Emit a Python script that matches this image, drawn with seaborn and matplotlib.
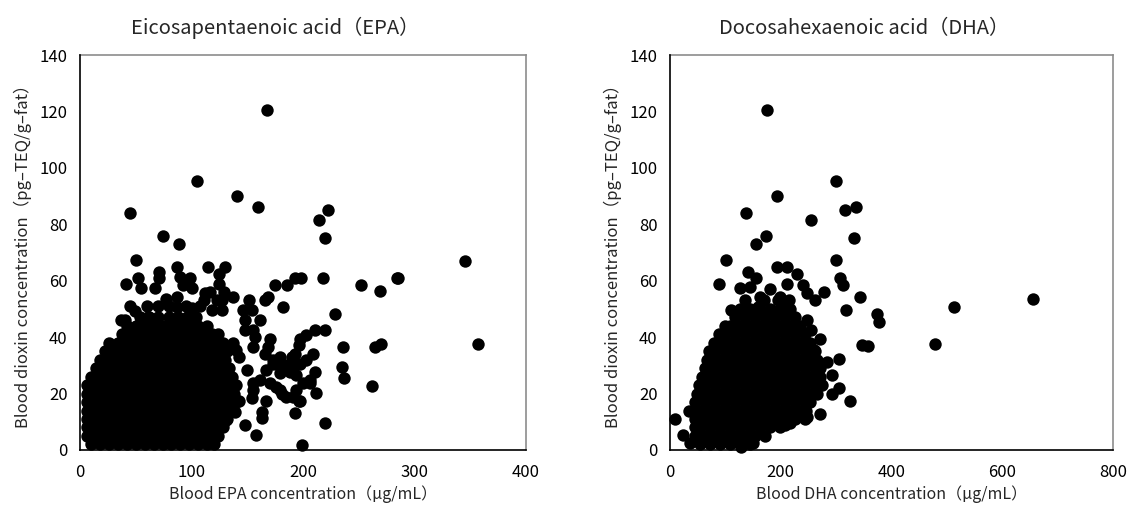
import numpy as np
import pandas as pd
import matplotlib
matplotlib.use("Agg")
import matplotlib.pyplot as plt
import seaborn as sns

# ======== EPA panel: sparse points ========
epa_x_sparse = [168, 105, 141, 160, 45, 222, 214, 220, 74, 89, 50, 345, 52, 41, 55, 71, 71, 67, 87, 90, 92,
                99, 100, 115, 125, 130, 125, 77, 87, 87, 100, 112, 117, 111, 123, 129, 127, 137, 118, 127,
                49, 40, 37, 61, 152, 146, 154, 166, 169, 175, 186, 182, 193, 198, 218, 252, 269, 285, 229,
                161, 148, 148, 155, 157, 155, 170, 169, 197, 203, 211, 220, 196, 193, 209, 236, 235, 237,
                265, 270, 262, 357, 211, 212, 206, 194, 196, 193, 220, 199, 179, 185, 167, 163, 163, 158,
                148, 173, 179, 184, 190, 191, 194, 167, 161, 155, 154, 143, 139, 131, 121, 150, 143, 140,
                137, 170, 176, 181, 200, 206, 191, 197, 179, 182, 188, 155, 166, 173, 197, 203, 284]
epa_y_sparse = [120.5, 95.5, 90, 86, 84, 85, 81.5, 75, 76, 73, 67.4, 67, 61, 59, 57.3, 63.2, 61, 57.3, 64.7,
                61.3, 58.6, 61, 57.3, 64.7, 62.3, 64.7, 59, 53.4, 54.4, 50.6, 50.5, 55.8, 56, 53.2, 53.2,
                56, 53.2, 54.4, 49.6, 49.6, 49.4, 46, 46, 47.3, 53.2, 49.6, 49.6, 53.2, 54.4, 58.5, 58.5,
                50.6, 61, 61, 61, 58.5, 56.3, 60.8, 48.1, 46, 46, 42.5, 42.5, 40.1, 36.6, 39.5, 36.6, 39.5,
                40.7, 42.5, 42.5, 37.2, 34.2, 34, 36.6, 29.3, 25.4, 36.6, 37.5, 22.7, 37.5, 27.6, 20.2, 23.6,
                21.3, 17.2, 13.2, 9.7, 1.8, 21.3, 18.9, 17.2, 13.6, 11.3, 5.2, 8.7, 31.9, 33.1, 30.2, 33.1,
                30.2, 26.6, 28.4, 24.8, 21.3, 18.3, 17.2, 13.6, 10.7, 4.5, 28.4, 33.1, 35.5, 37.8, 23.6,
                22.5, 20, 23.6, 24.8, 18.9, 17.2, 27.2, 29.6, 27.8, 23.6, 34.2, 30.6, 30.6, 31.9, 61]

# ======== EPA panel: dense core, estimated row by row ========
epa_core_rows = {
    2: [10, 18, 26, 34, 42, 50, 58, 66, 74, 82, 90, 98, 106, 114, 120],
    5: [6, 14, 22, 30, 38, 46, 54, 62, 70, 78, 86, 94, 102, 110, 118, 124],
    8: [6, 10, 18, 26, 34, 42, 50, 58, 66, 74, 82, 90, 98, 106, 114, 122, 128],
    11: [6, 14, 22, 30, 38, 46, 54, 62, 70, 78, 86, 94, 102, 110, 118, 126, 132],
    14: [6, 10, 18, 26, 34, 42, 50, 58, 66, 74, 82, 90, 98, 106, 114, 122, 130, 136],
    17: [6, 14, 22, 30, 38, 46, 54, 62, 70, 78, 86, 94, 102, 110, 118, 126, 134, 140],
    20: [6, 10, 18, 26, 34, 42, 50, 58, 66, 74, 82, 90, 98, 106, 114, 122, 130, 138],
    23: [6, 14, 22, 30, 38, 46, 54, 62, 70, 78, 86, 94, 102, 110, 118, 126, 134, 140],
    26: [10, 18, 26, 34, 42, 50, 58, 66, 74, 82, 90, 98, 106, 114, 122, 130, 136],
    29: [14, 22, 30, 38, 46, 54, 62, 70, 78, 86, 94, 102, 110, 118, 126, 134],
    32: [18, 26, 34, 42, 50, 58, 66, 74, 82, 90, 98, 106, 114, 122, 130],
    35: [22, 30, 38, 46, 54, 62, 70, 78, 86, 94, 102, 110, 118, 126, 132],
    38: [26, 34, 42, 50, 58, 66, 74, 82, 90, 98, 106, 114, 122, 128],
    41: [38, 46, 54, 62, 70, 78, 86, 94, 102, 110, 118, 124],
    44: [42, 50, 58, 66, 74, 82, 90, 98, 106, 114],
    47: [54, 62, 70, 80, 88, 96, 104],
    51: [45, 60, 70, 80, 95, 108],
}

# ======== DHA panel: sparse points ========
dha_x_sparse = [176, 299, 194, 137, 316, 335, 254, 173, 155, 333, 102, 300, 9, 35, 24, 36, 88, 141, 156,
                144, 126, 193, 211, 229, 211, 241, 180, 198, 162, 159, 183, 209, 247, 262, 278, 307, 313,
                318, 344, 373, 378, 346, 358, 478, 513, 655, 110, 126, 105, 92, 66, 60, 283, 305, 292,
                292, 306, 325, 270, 247, 232, 217, 208, 271, 260, 247, 255, 129, 150]
dha_y_sparse = [120.5, 95.5, 90, 84, 85, 86, 81.5, 76, 73, 75, 67.5, 67.4, 11, 14, 5.3, 2.4, 59, 63.2, 61,
                57.9, 57.3, 64.7, 64.7, 62.3, 59, 58.5, 56.9, 54.4, 54.4, 50.6, 49.6, 50.6, 55.6, 53.2,
                56, 60.8, 58.5, 49.6, 54.4, 48.3, 45.3, 37.1, 36.9, 37.5, 50.6, 53.5, 49.6, 49.6, 42.5,
                38.4, 29.5, 19.5, 31.3, 32.2, 26.6, 19.7, 22, 17.2, 12.9, 11.8, 12.9, 9.4, 8.9, 39.5,
                35.4, 46.1, 42.5, 1.2, 2.4]

# ======== DHA panel: dense core, estimated row by row ========
dha_core_rows = {
    2: [54, 72, 90, 108, 126, 144],
    5: [45, 63, 81, 99, 117, 135, 153, 171],
    8: [46, 54, 72, 90, 108, 126, 144, 162, 180, 198],
    11: [45, 63, 81, 99, 117, 135, 153, 171, 189, 207, 225, 243],
    14: [44, 54, 72, 90, 108, 126, 144, 162, 180, 198, 216, 234, 246],
    17: [45, 63, 81, 99, 117, 135, 153, 171, 189, 207, 225, 243, 252],
    20: [48, 54, 72, 90, 108, 126, 144, 162, 180, 198, 216, 234, 252, 266],
    23: [52, 63, 81, 99, 117, 135, 153, 171, 189, 207, 225, 243, 261, 274],
    26: [58, 72, 90, 108, 126, 144, 162, 180, 198, 216, 234, 252, 270],
    29: [63, 81, 99, 117, 135, 153, 171, 189, 207, 225, 243, 261, 270],
    32: [66, 72, 90, 108, 126, 144, 162, 180, 198, 216, 234, 252, 266],
    35: [70, 81, 99, 117, 135, 153, 171, 189, 207, 225, 243, 261],
    38: [80, 90, 108, 126, 144, 162, 180, 198, 216, 234, 252],
    41: [88, 99, 117, 135, 153, 171, 189, 207, 225, 243],
    44: [100, 108, 126, 144, 162, 180, 198, 216, 234],
    47: [117, 135, 153, 171, 189, 207, 225],
    50: [126, 144, 162, 180, 198, 216],
    53: [135, 170, 195, 215],
}

titles = ["Eicosapentaenoic acid（EPA）", "Docosahexaenoic acid（DHA）"]
xlabels = ["Blood EPA concentration（μg/mL）", "Blood DHA concentration（μg/mL）"]
ylabel = "Blood dioxin concentration（pg–TEQ/g–fat）"
xlims = [400, 800]
xticks = [[0, 100, 200, 300, 400], [0, 200, 400, 600, 800]]
yticks = [0, 20, 40, 60, 80, 100, 120, 140]


def build_frame(xs, ys, rows):
    cx = [x for y, r in rows.items() for x in r]
    cy = [y for y, r in rows.items() for x in r]
    return pd.DataFrame({"x": cx + list(xs), "y": cy + list(ys)})


frames = [build_frame(epa_x_sparse, epa_y_sparse, epa_core_rows),
          build_frame(dha_x_sparse, dha_y_sparse, dha_core_rows)]

sns.set_style("white")
plt.rcParams["font.family"] = ["Noto Sans CJK JP", "DejaVu Sans"]

fig = plt.figure(figsize=(11.31, 5.15), dpi=100)
axes = [fig.add_axes([80 / 1131, 65 / 515, 446 / 1131, 395 / 515]),
        fig.add_axes([670 / 1131, 65 / 515, 443 / 1131, 395 / 515])]

for i, ax in enumerate(axes):
    sns.scatterplot(data=frames[i], x="x", y="y", color="black", s=80, linewidth=0,
                    ax=ax, clip_on=False, zorder=3)
    ax.set_xlim(0, xlims[i])
    ax.set_ylim(0, 140)
    ax.set_xticks(xticks[i])
    ax.set_yticks(yticks)
    ax.tick_params(direction="in", length=5, width=1, labelsize=12, colors="black")
    ax.tick_params(axis="x", pad=10)
    ax.tick_params(axis="y", pad=9)
    ax.set_title(titles[i], fontsize=14.5, pad=15, x=0.437)
    ax.set_xlabel(xlabels[i], fontsize=11.5, labelpad=3)
    ax.set_ylabel(ylabel, fontsize=12, labelpad=5)
    for side in ["top", "right"]:
        ax.spines[side].set_color("#8c8c8c")
        ax.spines[side].set_linewidth(1.2)
    for side in ["left", "bottom"]:
        ax.spines[side].set_color("black")
        ax.spines[side].set_linewidth(1.2)
        ax.spines[side].set_zorder(4)

fig.savefig("out.png", dpi=100)
